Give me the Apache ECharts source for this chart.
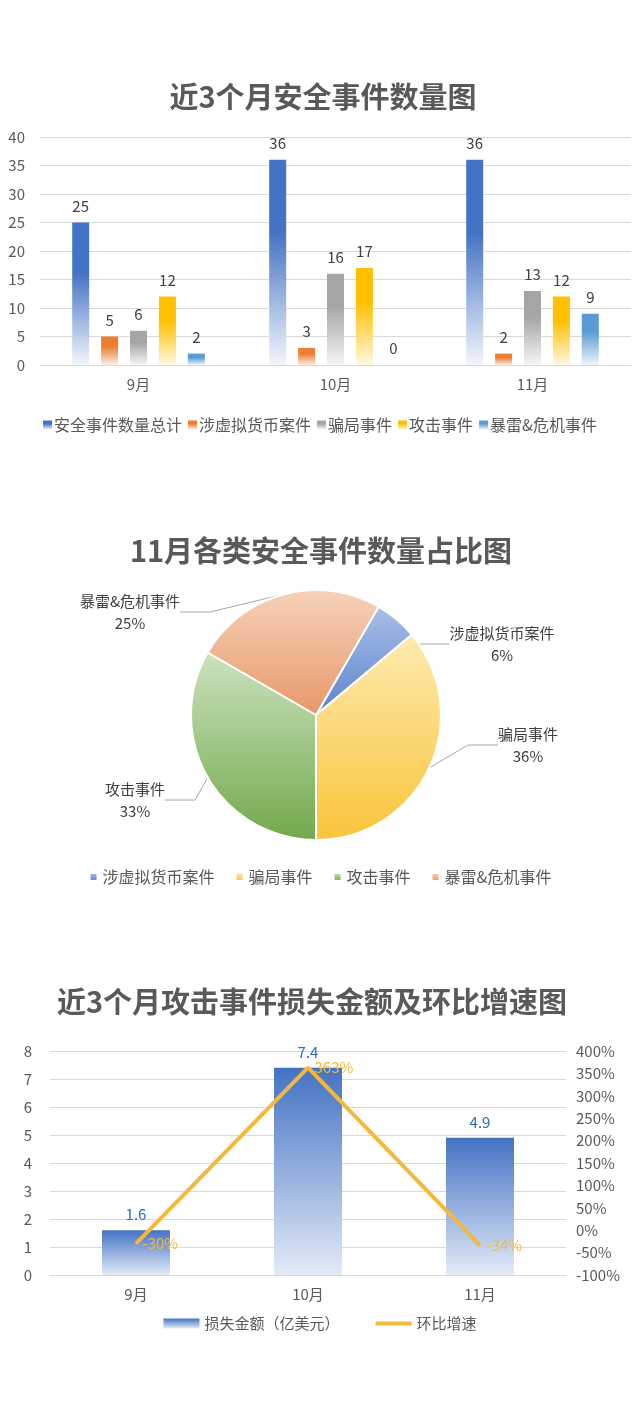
<!DOCTYPE html>
<html>
<head>
<meta charset="utf-8">
<script src="https://cdn.jsdelivr.net/npm/echarts@6/dist/echarts.min.js"></script>
<style>
  body { margin: 0; background: #fff; }
  .box { position: absolute; left: 0; width: 640px; }
</style>
</head>
<body>
<div id="c1" class="box" style="top:60px;height:400px"></div>
<div id="c2" class="box" style="top:520px;height:400px"></div>
<div id="c3" class="box" style="top:970px;height:380px"></div>
<script>
var FONT = '"Noto Sans CJK SC", "Noto Sans", sans-serif';

// chart 1 data
var months = ['9月', '10月', '11月'];
var seriesNames = ['安全事件数量总计', '涉虚拟货币案件', '骗局事件', '攻击事件', '暴雷&危机事件'];
var totalCount = [25, 36, 36];
var cryptoCount = [5, 3, 2];
var scamCount = [6, 16, 13];
var attackCount = [12, 17, 12];
var crisisCount = [2, 0, 9];
var barColors = ['#4472C4', '#ED7D31', '#A5A5A5', '#FFC000', '#5B9BD5'];

// chart 2 data (11月)
var pieNames = ['涉虚拟货币案件', '骗局事件', '攻击事件', '暴雷&危机事件'];
var pieValues = [2, 13, 12, 9];

// chart 3 data
var lossAmount = [1.6, 7.4, 4.9];
var growthRate = [-30, 363, -34];

function fade(c, light) {
    return new echarts.graphic.LinearGradient(0, 0, 0, 1, [
        { offset: 0, color: c },
        { offset: 0.35, color: c },
        { offset: 1, color: light }
    ]);
}

var axisText = { fontSize: 15, color: '#595959', fontFamily: FONT };

var chart1 = echarts.init(document.getElementById('c1'));
var lists = [totalCount, cryptoCount, scamCount, attackCount, crisisCount];
var lights = ['#F3F6FC', '#FBEFE6', '#F6F6F6', '#FFF8E0', '#EEF5FB'];
var s1 = [];
for (var i = 0; i < seriesNames.length; i++) {
    s1.push({
        name: seriesNames[i],
        type: 'bar',
        data: lists[i],
        barWidth: 17,
        barGap: '70%',
        itemStyle: { color: fade(barColors[i], lights[i]) },
        label: { show: true, position: 'top', distance: 9, color: '#404040', fontSize: 15, fontFamily: FONT }
    });
}
chart1.setOption({
    animation: false,
    title: {
        text: '近3个月安全事件数量图', left: 318, textAlign: 'center', top: 17,
        textStyle: { fontSize: 29, fontWeight: 'bold', color: '#595959', fontFamily: FONT }
    },
    legend: {
        top: 352, left: 'center', icon: 'rect', itemWidth: 9, itemHeight: 9, itemGap: 6,
        textStyle: { fontSize: 16, color: '#595959', fontFamily: FONT, padding: [0, 0, 0, -3] }
    },
    grid: { left: 40, right: 9, top: 77, height: 228 },
    xAxis: {
        type: 'category', data: months,
        axisTick: { show: false },
        axisLine: { lineStyle: { color: '#D9D9D9' } },
        axisLabel: Object.assign({ margin: 12 }, axisText)
    },
    yAxis: {
        type: 'value', min: 0, max: 40, interval: 5,
        axisLabel: Object.assign({ margin: 15 }, axisText),
        splitLine: { lineStyle: { color: '#D9D9D9' } }
    },
    series: s1
});

var chart2 = echarts.init(document.getElementById('c2'));
var pieColors = [['#A9C0E8', '#5A83CC'], ['#FEEBB0', '#F8C43A'], ['#CCE2BE', '#72A94C'], ['#F6D2BA', '#E79868']];
var labelSpots = [[502, 124], [528, 225], [135, 280], [130, 92]];
var pieData = [];
for (var j = 0; j < pieNames.length; j++) {
    pieData.push({
        name: pieNames[j], value: pieValues[j],
        itemStyle: {
            color: new echarts.graphic.LinearGradient(0, 0, 0, 1, [
                { offset: 0, color: pieColors[j][0] },
                { offset: 1, color: pieColors[j][1] }
            ])
        }
    });
}
chart2.setOption({
    animation: false,
    title: {
        text: '11月各类安全事件数量占比图', left: 316, textAlign: 'center', top: 11,
        textStyle: { fontSize: 29, fontWeight: 'bold', color: '#595959', fontFamily: FONT }
    },
    legend: {
        top: 344, left: 'center', icon: 'rect', itemWidth: 8, itemHeight: 8, itemGap: 20,
        textStyle: { fontSize: 16, color: '#595959', fontFamily: FONT }
    },
    series: [{
        type: 'pie',
        center: [316, 195],
        radius: 125,
        startAngle: 60,
        data: pieData,
        itemStyle: { borderColor: '#fff', borderWidth: 2 },
        label: {
            formatter: '{b}\n{d}%', color: '#404040', fontSize: 15, lineHeight: 22,
            fontFamily: FONT, align: 'center'
        },
        labelLine: { length: 18, length2: 30, lineStyle: { color: '#A6A6A6', width: 1 } },
        labelLayout: function (p) {
            var s = labelSpots[p.dataIndex];
            return { x: s[0], y: s[1], align: 'center', verticalAlign: 'middle' };
        },
        percentPrecision: 0
    }]
});

var chart3 = echarts.init(document.getElementById('c3'));
chart3.setOption({
    animation: false,
    title: {
        text: '近3个月攻击事件损失金额及环比增速图', left: 307, textAlign: 'center', top: 12,
        textStyle: { fontSize: 29, fontWeight: 'bold', color: '#595959', fontFamily: FONT }
    },
    legend: {
        top: 341, left: 'center', itemWidth: 36, itemHeight: 10, itemGap: 36,
        textStyle: { fontSize: 15, color: '#595959', fontFamily: FONT },
        data: [
            { name: '损失金额（亿美元）', icon: 'rect' },
            { name: '环比增速', icon: 'path://M0,0 L36,0 L36,4 L0,4 Z' }
        ]
    },
    grid: { left: 50, right: 74, top: 81, height: 224 },
    xAxis: {
        type: 'category', data: months,
        axisTick: { show: false },
        axisLine: { lineStyle: { color: '#D9D9D9' } },
        axisLabel: Object.assign({ margin: 12 }, axisText)
    },
    yAxis: [{
        type: 'value', min: 0, max: 8, interval: 1,
        axisLabel: Object.assign({ margin: 18 }, axisText),
        splitLine: { lineStyle: { color: '#D9D9D9' } }
    }, {
        type: 'value', min: -100, max: 400, interval: 50,
        axisLabel: Object.assign({ formatter: '{value}%', margin: 10 }, axisText),
        splitLine: { show: false }
    }],
    series: [{
        name: '损失金额（亿美元）',
        type: 'bar',
        data: lossAmount,
        barWidth: 68,
        itemStyle: {
            color: new echarts.graphic.LinearGradient(0, 0, 0, 1, [
                { offset: 0, color: '#4472C4' },
                { offset: 1, color: '#E3EBF7' }
            ])
        },
        label: { show: true, position: 'top', distance: 8, color: '#2E6DB8', fontSize: 15, fontFamily: FONT }
    }, {
        name: '环比增速',
        type: 'line',
        yAxisIndex: 1,
        data: growthRate,
        symbol: 'circle',
        symbolSize: 1,
        itemStyle: { color: '#F4B93C' },
        lineStyle: { color: '#F4B93C', width: 4 },
        label: {
            show: true, position: 'right', distance: 6, color: '#F4B93C', fontSize: 15, fontFamily: FONT,
            formatter: '{c}%'
        }
    }]
});
</script>
</body>
</html>
